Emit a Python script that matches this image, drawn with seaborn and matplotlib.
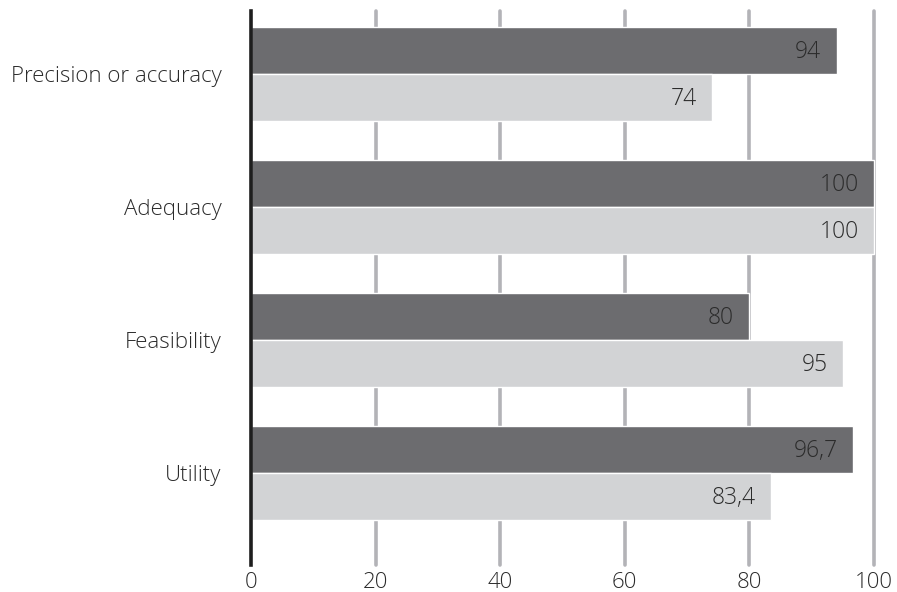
import matplotlib
matplotlib.use("Agg")
import matplotlib.pyplot as plt
import seaborn as sns
import pandas as pd

# Data
categories = ["Precision or accuracy", "Adequacy", "Feasibility", "Utility"]
series_names = ["Series 1", "Series 2"]
series_1 = [94, 100, 80, 96.7]
series_2 = [74, 100, 95, 83.4]
x_ticks = [0, 20, 40, 60, 80, 100]

dark = "#6b6c70"
light = "#d2d3d5"
grid_col = "#b3b3b7"
text_col = "#2b2b2b"

df = pd.DataFrame({
    "category": categories * 2,
    "series": [series_names[0]] * 4 + [series_names[1]] * 4,
    "value": series_1 + series_2,
})

sns.set_theme(style="white")
plt.rcParams["font.family"] = ["Open Sans", "DejaVu Sans"]

fig = plt.figure(figsize=(8.97, 5.92), dpi=100)
ax = fig.add_axes([251 / 897, 27 / 592, 629.2 / 897, 554 / 592])

sns.barplot(
    data=df, y="category", x="value", hue="series",
    order=categories, hue_order=series_names,
    palette=[dark, light], orient="h", width=0.707,
    edgecolor="white", linewidth=1.0, legend=False, ax=ax, zorder=3,
)

ax.set_xlim(0, 101)
ax.set_ylim(3.692, -0.474)

# vertical gridlines
for t in x_ticks[1:]:
    ax.axvline(t, color=grid_col, lw=2.6, zorder=1, clip_on=False)

for s in ["top", "right", "bottom"]:
    ax.spines[s].set_visible(False)
ax.spines["left"].set_color("#1e1e1e")
ax.spines["left"].set_linewidth(2.6)
ax.spines["left"].set_zorder(5)

ax.set_xticks(x_ticks)
ax.set_xticklabels([str(t) for t in x_ticks])
ax.tick_params(axis="x", length=0, pad=5, labelsize=16, labelcolor=text_col)
ax.tick_params(axis="y", length=0, pad=21, labelsize=16, labelcolor=text_col)
for lbl in ax.get_xticklabels() + ax.get_yticklabels():
    lbl.set_fontweight("light")
ax.set_xlabel("")
ax.set_ylabel("")


def fmt(v):
    s = f"{v:g}"
    return s.replace(".", ",")


for container, vals in zip(ax.containers, [series_1, series_2]):
    for bar, v in zip(container, vals):
        yc = bar.get_y() + bar.get_height() / 2
        ax.annotate(fmt(v), xy=(v, yc), xytext=(-11, -1), textcoords="offset points",
                    ha="right", va="center", fontsize=16.5, color=text_col,
                    fontweight="light", zorder=6)

fig.savefig("out.png", dpi=100, facecolor="white")
